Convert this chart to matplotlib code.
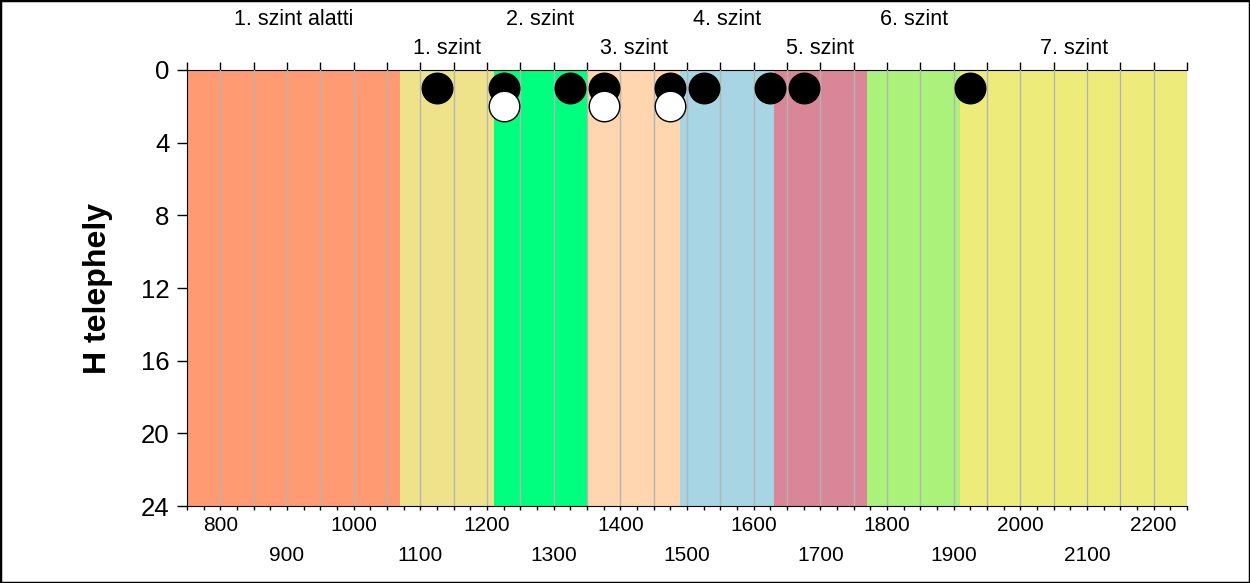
import numpy as np
import matplotlib
matplotlib.use("Agg")
import matplotlib.pyplot as plt
import matplotlib.transforms as mtrans
from matplotlib.patches import Rectangle

plt.rcParams['font.family'] = ['Liberation Sans', 'DejaVu Sans']

# szint határok (x) és színek
hatarok = [750, 1070, 1210, 1350, 1490, 1630, 1770, 1910, 2250]
szint_nevek = ["1. szint alatti", "1. szint", "2. szint", "3. szint",
               "4. szint", "5. szint", "6. szint", "7. szint"]
szinek = ["#FF9A72", "#EEE38A", "#00FF7F", "#FFD6B0",
          "#A8D5E3", "#D98698", "#ABF27A", "#EDEC7B"]

# pontok
fekete_x = [1125, 1225, 1325, 1375, 1475, 1525, 1625, 1675, 1925]
fekete_y = [1, 1, 1, 1, 1, 1, 1, 1, 1]
feher_x = [1225, 1375, 1475]
feher_y = [2, 2, 2]

x_tickek = list(range(800, 2201, 100))
y_tickek = [0, 4, 8, 12, 16, 20, 24]

fig = plt.figure(figsize=(12.5, 5.83), dpi=100)
ax = fig.add_axes([0.1496, 0.132, 0.8, 0.748])

for i in range(len(szinek)):
    ax.axvspan(hatarok[i], hatarok[i + 1], color=szinek[i], lw=0, zorder=0)

for g in np.arange(800, 2251, 50):
    ax.axvline(g, color="#B4B4B4", lw=1, zorder=1)

ax.plot(fekete_x, fekete_y, "o", ms=22, mfc="black", mec="black", mew=1, zorder=3)
ax.plot(feher_x, feher_y, "o", ms=22, mfc="white", mec="black", mew=1, zorder=4)

ax.set_xlim(750, 2250)
ax.set_ylim(24, 0)

ax.set_yticks(y_tickek)
ax.set_yticklabels([str(v) for v in y_tickek], fontsize=18.5)
ax.tick_params(axis="y", length=7.5, width=1, pad=5)
ax.set_ylabel("H telephely", fontsize=23, fontweight="bold", labelpad=20)

ax.set_xticks(x_tickek)
lab = []
for v in x_tickek:
    if (v // 100) % 2 == 0:
        lab.append(str(v))
    else:
        lab.append("\n" + str(v))
ax.set_xticklabels(lab, fontsize=15)
for t in ax.get_xticklabels():
    t.set_linespacing(1.75)
ax.set_xticks(np.arange(750, 2251, 25), minor=True)
ax.tick_params(axis="x", which="both", length=3, width=1, pad=4)

for s in ["top", "right"]:
    ax.spines[s].set_visible(False)

felso = ax.secondary_xaxis("top")
felso.set_xticks(np.arange(750, 2251, 50))
felso.tick_params(length=6, width=1, labeltop=False)

# szint feliratok két sorban
tr = mtrans.blended_transform_factory(ax.transData, fig.transFigure)
for i, nev in enumerate(szint_nevek):
    kozep = (hatarok[i] + hatarok[i + 1]) / 2
    y = 0.9657 if i % 2 == 0 else 0.916
    ax.text(kozep, y, nev, transform=tr, ha="center", va="center", fontsize=15.5)

fig.patches.append(Rectangle((0, 0), 1, 1, transform=fig.transFigure,
                             fill=False, ec="black", lw=2.5))

fig.savefig("out.png", dpi=100)
